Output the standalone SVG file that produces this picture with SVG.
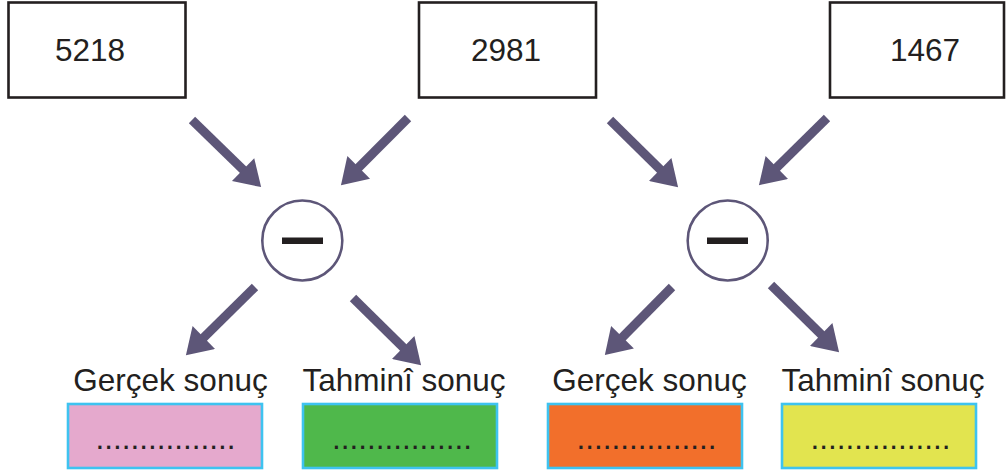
<svg xmlns="http://www.w3.org/2000/svg" width="1006" height="476" viewBox="0 0 1006 476">
<style>
.box{fill:#ffffff;stroke:#231f20;stroke-width:2.6}
.res{stroke:#3ec3f0;stroke-width:2.6}
.t{font-family:"Liberation Sans",Arial,sans-serif;font-size:31.5px;fill:#231f20;text-anchor:middle}
.op{fill:#ffffff;stroke:#5d5678;stroke-width:2.6}
.bar{fill:#231f20}
.arr{stroke:#5d5678;stroke-width:9;fill:none;marker-end:url(#head)}
</style>
<defs>
<marker id="head" markerUnits="userSpaceOnUse" markerWidth="30" markerHeight="32" refX="1" refY="14" orient="auto" viewBox="0 0 23 28">
<path d="M0,0 L22,14 L0,28 z" fill="#5d5678"/>
</marker>
</defs>
<rect width="1006" height="476" fill="#ffffff"/>
<g id="n5218"><rect class="box" x="8.5" y="2.5" width="177" height="95"/><text class="t" x="90" y="61">5218</text></g>
<g id="n2981"><rect class="box" x="419" y="2.5" width="177" height="95"/><text class="t" x="506" y="61">2981</text></g>
<g id="n1467"><rect class="box" x="830" y="2.5" width="174" height="95"/><text class="t" x="925" y="61">1467</text></g>
<g id="op1"><circle class="op" cx="302.3" cy="240.5" r="40"/><rect class="bar" x="282" y="237.5" width="41" height="6.5"/></g>
<g id="op2"><circle class="op" cx="727.7" cy="240.5" r="40"/><rect class="bar" x="707" y="237.5" width="41" height="6.5"/></g>
<g id="r1"><text class="t" x="170.5" y="391">Gerçek sonuç</text><rect class="res" x="68" y="404" width="194" height="64" fill="#e5a9cd"/><text class="t" x="165.5" y="449">................</text></g>
<g id="r2"><text class="t" x="404" y="391">Tahminî sonuç</text><rect class="res" x="303" y="404" width="194" height="64" fill="#4fb84b"/><text class="t" x="402" y="449">................</text></g>
<g id="r3"><text class="t" x="649.5" y="391">Gerçek sonuç</text><rect class="res" x="548" y="404" width="194" height="64" fill="#f26f2b"/><text class="t" x="646.5" y="449">................</text></g>
<g id="r4"><text class="t" x="883" y="391">Tahminî sonuç</text><rect class="res" x="782" y="404" width="194" height="64" fill="#e2e44f"/><text class="t" x="880.5" y="449">................</text></g>
<g id="connectors">
<line class="arr" x1="192" y1="120" x2="243.9" y2="170.4"/>
<line class="arr" x1="408" y1="118" x2="357.9" y2="168.2"/>
<line class="arr" x1="610" y1="120" x2="661" y2="170.3"/>
<line class="arr" x1="827" y1="118" x2="776" y2="168.3"/>
<line class="arr" x1="255" y1="287" x2="203" y2="338.3"/>
<line class="arr" x1="353" y1="298" x2="404" y2="348.3"/>
<line class="arr" x1="672" y1="287" x2="621.7" y2="338"/>
<line class="arr" x1="771" y1="285" x2="822" y2="335.3"/>
</g>
</svg>
